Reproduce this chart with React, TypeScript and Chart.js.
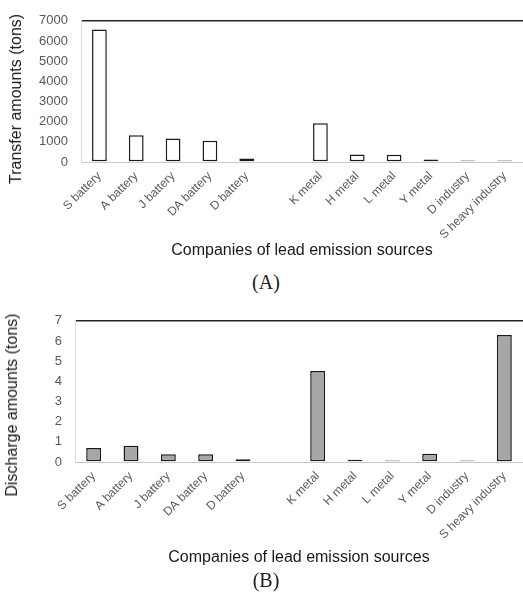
import React, { useEffect, useRef } from "react";
import { Chart, registerables } from "chart.js";

Chart.register(...registerables);

const categories = [
  "S battery",
  "A battery",
  "J battery",
  "DA battery",
  "D battery",
  "",
  "K metal",
  "H metal",
  "L metal",
  "Y metal",
  "D industry",
  "S heavy industry",
];

const transferAmounts = [6570, 1320, 1160, 1050, 175, null, 1920, 370, 360, 130, 70, 70];
const dischargeAmounts = [0.7, 0.81, 0.38, 0.38, 0.14, null, 4.51, 0.11, 0.07, 0.41, 0.07, 6.3];

const transferMax = 7000;
const transferStep = 1000;
const dischargeMax = 7;
const dischargeStep = 1;

const FONT = "'Liberation Sans', Arial, sans-serif";

type PanelProps = {
  values: (number | null)[];
  max: number;
  step: number;
  fill: string;
  yWidth: number;
  xHeight: number;
  titlePadBottom: number;
  top: number;
  height: number;
};

function Panel(p: PanelProps) {
  const ref = useRef<HTMLCanvasElement | null>(null);
  useEffect(() => {
    if (!ref.current) return;
    const chart = new Chart(ref.current, {
      type: "bar",
      data: {
        labels: categories,
        datasets: [
          {
            data: p.values as any,
            backgroundColor: p.fill,
            borderColor: "#1a1a1a",
            borderWidth: 1.5,
            borderSkipped: false,
            categoryPercentage: 1,
            barPercentage: 0.4,
          },
        ],
      },
      options: {
        responsive: false,
        animation: false,
        devicePixelRatio: 1,
        layout: { padding: { top: 15, left: 0, right: 0, bottom: 0 } },
        plugins: { legend: { display: false }, tooltip: { enabled: false } },
        scales: {
          x: {
            grid: { display: false, drawTicks: false },
            border: { display: true, color: "#c8c8c8", width: 1 },
            ticks: {
              minRotation: 45,
              maxRotation: 45,
              autoSkip: false,
              padding: 7,
              color: "#595959",
              font: { family: FONT, size: 12 },
            },
            title: {
              display: true,
              text: "Companies of lead emission sources",
              color: "#1a1a1a",
              font: { family: FONT, size: 16 },
              padding: { top: 0, bottom: p.titlePadBottom },
            },
            afterFit: (s: any) => {
              s.height = p.xHeight;
            },
          },
          y: {
            min: 0,
            max: p.max,
            grid: {
              drawTicks: false,
              lineWidth: 1.6,
              color: (ctx: any) =>
                ctx.tick && ctx.tick.value === p.max ? "#262626" : "rgba(0,0,0,0)",
            },
            border: { display: true, color: "#dcdcdc", width: 1 },
            ticks: {
              stepSize: p.step,
              padding: 13,
              color: "#595959",
              font: { family: FONT, size: 13 },
              callback: (v: any) => String(v),
            },
            afterFit: (s: any) => {
              s.width = p.yWidth;
            },
          },
        },
      },
    });
    return () => chart.destroy();
  }, []);
  return (
    <canvas
      ref={ref}
      width={523}
      height={p.height}
      style={{ position: "absolute", left: 0, top: p.top, width: 523, height: p.height }}
    />
  );
}

const yTitleStyle = (cx: number, cy: number): React.CSSProperties => ({
  position: "absolute",
  left: cx,
  top: cy,
  transform: "translate(-50%, -50%) rotate(-90deg)",
  whiteSpace: "nowrap",
  fontFamily: FONT,
  fontSize: 16,
  color: "#1a1a1a",
  lineHeight: "18px",
});

const capStyle = (cx: number, cy: number): React.CSSProperties => ({
  position: "absolute",
  left: cx,
  top: cy,
  transform: "translate(-50%, -50%)",
  whiteSpace: "nowrap",
  fontFamily: "'Liberation Serif', 'Times New Roman', serif",
  fontSize: 20,
  color: "#1a1a1a",
  lineHeight: "22px",
});

export default function App() {
  return (
    <div style={{ position: "absolute", left: 0, top: 0, width: 523, height: 594, background: "#fff", overflow: "hidden" }}>
      <Panel
        values={transferAmounts}
        max={transferMax}
        step={transferStep}
        fill="#ffffff"
        yWidth={81}
        xHeight={108}
        titlePadBottom={10}
        top={0}
        height={270}
      />
      <div style={yTitleStyle(16, 99)}>Transfer amounts (tons)</div>
      <div style={capStyle(266, 282)}>(A)</div>
      <Panel
        values={dischargeAmounts}
        max={dischargeMax}
        step={dischargeStep}
        fill="#a6a6a6"
        yWidth={75}
        xHeight={108}
        titlePadBottom={3}
        top={300}
        height={270}
      />
      <div style={yTitleStyle(12, 405)}>Discharge amounts (tons)</div>
      <div style={capStyle(266, 580)}>(B)</div>
    </div>
  );
}
